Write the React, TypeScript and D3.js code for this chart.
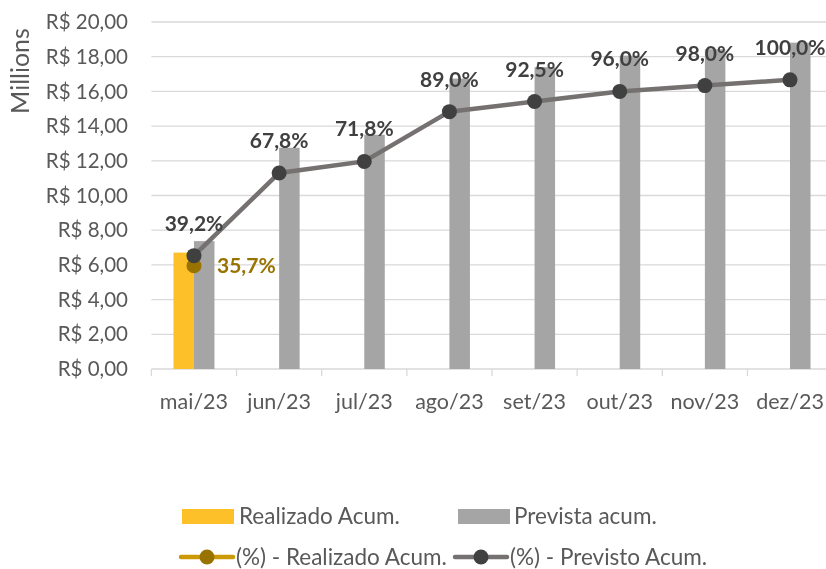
import * as d3 from 'd3';

const categories = ['mai/23', 'jun/23', 'jul/23', 'ago/23', 'set/23', 'out/23', 'nov/23', 'dez/23'];
// millions of R$
const previstaAcum = [7.37, 12.75, 13.5, 16.74, 17.4, 18.06, 18.43, 18.81];
const realizadoAcum = [6.71];
const pctPrevisto = [0.392, 0.678, 0.718, 0.89, 0.925, 0.96, 0.98, 1.0];
const pctRealizado = [0.357];
const yTicks = [0, 2, 4, 6, 8, 10, 12, 14, 16, 18, 20];

const W = 826;
const H = 569;
const FONT = 'Lato, "Open Sans", sans-serif';

const fmtMoney = (v: number) => `R$ ${v.toFixed(2).replace('.', ',')}`;
const fmtPct = (v: number) => `${(v * 100).toFixed(1).replace('.', ',')}%`;

export default function App() {
  const left = 151.4;
  const right = 832.6;
  const top = 22;
  const bottom = 369;

  const x = d3.scaleBand<string>().domain(categories).range([left, right]);
  const y = d3.scaleLinear().domain([0, 20]).range([bottom, top]);
  const y2 = d3.scaleLinear().domain([0, 1.2]).range([bottom, top]);

  const barW = 20.5;
  const cx = (c: string) => (x(c) || 0) + x.bandwidth() / 2;

  const line = d3
    .line<number>()
    .x((_, i) => cx(categories[i]))
    .y((d) => y2(d));

  return (
    <div style={{ position: 'fixed', left: 0, top: 0 }}>
      <svg width={W} height={H} style={{ display: 'block', fontFamily: FONT }}>
        {/* gridlines */}
        {yTicks.map((t) => (
          <line key={t} x1={left} x2={right} y1={y(t)} y2={y(t)} stroke="#d9d9d9" strokeWidth={1.3} />
        ))}
        {yTicks.map((t) => (
          <text key={'l' + t} x={128} y={y(t)} dy="0.35em" textAnchor="end" fontSize={20.5} fill="#595959">
            {fmtMoney(t)}
          </text>
        ))}
        <text transform={`translate(20,${71}) rotate(-90)`} textAnchor="middle" dy="0.35em" fontSize={25} fill="#595959">
          Millions
        </text>

        {/* x axis ticks */}
        {categories.map((c) => (
          <line key={'t' + c} x1={x(c)} x2={x(c)} y1={bottom} y2={bottom + 7} stroke="#d9d9d9" strokeWidth={1.3} />
        ))}
        {categories.map((c) => (
          <text key={'x' + c} x={cx(c)} y={409} textAnchor="middle" fontSize={21.5} fill="#595959">
            {c}
          </text>
        ))}

        {/* bars */}
        {previstaAcum.map((v, i) => (
          <rect key={'p' + i} x={cx(categories[i])} y={y(v)} width={barW} height={bottom - y(v)} fill="#a5a5a5" />
        ))}
        {realizadoAcum.map((v, i) => (
          <rect key={'r' + i} x={cx(categories[i]) - barW} y={y(v)} width={barW} height={bottom - y(v)} fill="#fdc029" />
        ))}

        {/* lines */}
        <path d={line(pctRealizado) || ''} fill="none" stroke="#cc9a06" strokeWidth={4.5} />
        {pctRealizado.map((v, i) => (
          <circle key={'cr' + i} cx={cx(categories[i])} cy={y2(v)} r={7.5} fill="#997300" />
        ))}
        <path d={line(pctPrevisto) || ''} fill="none" stroke="#767171" strokeWidth={4.5} />
        {pctPrevisto.map((v, i) => (
          <circle key={'cp' + i} cx={cx(categories[i])} cy={y2(v)} r={7.5} fill="#404040" />
        ))}

        {/* labels */}
        {pctPrevisto.map((v, i) => (
          <text key={'lp' + i} x={cx(categories[i])} y={y2(v) - 25} textAnchor="middle" fontSize={21} fontWeight="bold" fill="#404040">
            {fmtPct(v)}
          </text>
        ))}
        {pctRealizado.map((v, i) => (
          <text key={'lr' + i} x={cx(categories[i]) + 23} y={y2(v)} dy="0.35em" fontSize={21} fontWeight="bold" fill="#997300">
            {fmtPct(v)}
          </text>
        ))}

        {/* legend */}
        <g fontSize={22.5} fill="#595959">
          <rect x={182} y={509} width={52} height={15} fill="#fdc029" />
          <text x={239} y={516} dy="0.35em">Realizado Acum.</text>
          <rect x={458} y={509} width={52} height={15} fill="#a5a5a5" />
          <text x={514} y={516} dy="0.35em">Prevista acum.</text>

          <line x1={181} x2={233} y1={557} y2={557} stroke="#cc9a06" strokeWidth={4.5} strokeLinecap="round" />
          <circle cx={207} cy={557} r={7.5} fill="#997300" />
          <text x={236} y={557} dy="0.35em">(%) - Realizado Acum.</text>
          <line x1={455} x2={507} y1={557} y2={557} stroke="#767171" strokeWidth={4.5} strokeLinecap="round" />
          <circle cx={481} cy={557} r={7.5} fill="#404040" />
          <text x={510} y={557} dy="0.35em">(%) - Previsto Acum.</text>
        </g>
      </svg>
    </div>
  );
}
